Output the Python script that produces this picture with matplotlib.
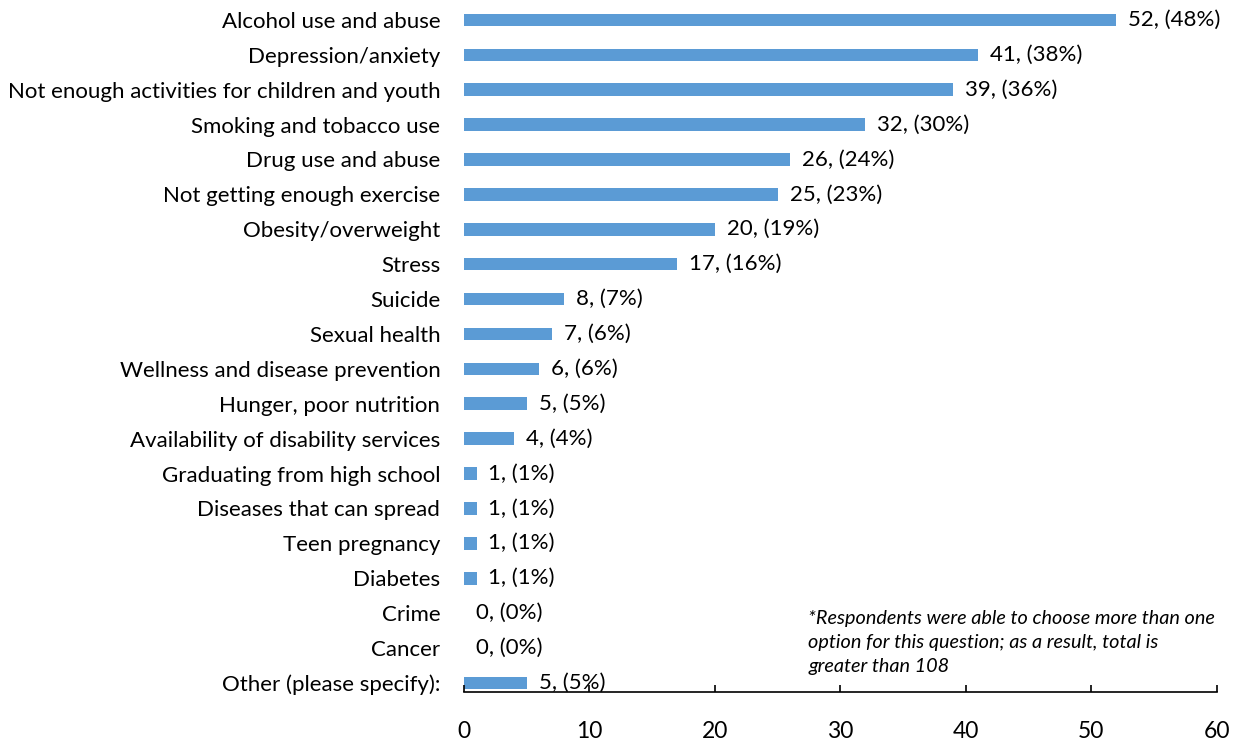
import matplotlib.pyplot as plt

categories = ["Alcohol use and abuse", "Depression/anxiety",
              "Not enough activities for children and youth",
              "Smoking and tobacco use", "Drug use and abuse",
              "Not getting enough exercise", "Obesity/overweight", "Stress",
              "Suicide", "Sexual health", "Wellness and disease prevention",
              "Hunger, poor nutrition", "Availability of disability services",
              "Graduating from high school", "Diseases that can spread",
              "Teen pregnancy", "Diabetes", "Crime", "Cancer",
              "Other (please specify):"]
counts = [52, 41, 39, 32, 26, 25, 20, 17, 8, 7, 6, 5, 4, 1, 1, 1, 1, 0, 0, 5]
percents = [48, 38, 36, 30, 24, 23, 19, 16, 7, 6, 6, 5, 4, 1, 1, 1, 1, 0, 0, 5]
note = ("*Respondents were able to choose more than one\n"
        "option for this question; as a result, total is\n"
        "greater than 108")

plt.rcParams['font.family'] = ['Lato', 'DejaVu Sans']

fig = plt.figure(figsize=(12.34, 7.42), dpi=100)
ax = fig.add_axes([0.376, 0.0674, 0.610, 0.918])

n = len(categories)
ypos = list(range(n - 1, -1, -1))
ax.barh(ypos, counts, height=0.36, color="#5B9BD5")

# value labels after each bar
for y, c, p in zip(ypos, counts, percents):
    ax.text(c + 0.95, y, f"{c}, ({p}%)", va="center", ha="left",
            fontsize=16, color="black")

ax.set_yticks(ypos)
ax.set_yticklabels(categories, fontsize=16)
ax.tick_params(axis="y", length=0, pad=17)

ax.set_xlim(0, 60)
ax.set_ylim(-0.26, n - 1 + 0.26)
ax.set_xticks(range(0, 61, 10))
ax.tick_params(axis="x", direction="in", length=5, width=1.2, pad=21,
               labelsize=16.5)

for s in ["top", "right", "left"]:
    ax.spines[s].set_visible(False)
ax.spines["bottom"].set_linewidth(1.2)

fig.text(0.655, 1 - 610 / 742, note, fontsize=14.3, style="italic",
         va="top", ha="left", linespacing=1.5)

fig.savefig("out.png", dpi=100)
